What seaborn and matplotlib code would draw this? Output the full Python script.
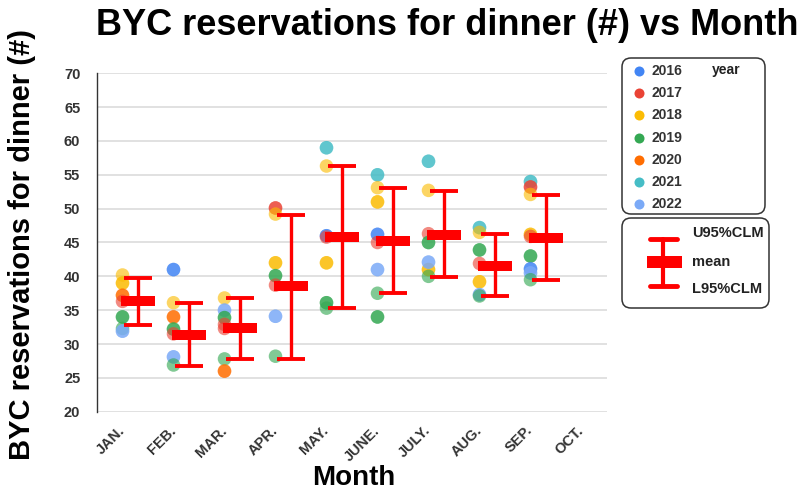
import numpy as np
import pandas as pd
import matplotlib
matplotlib.use("Agg")
import matplotlib.pyplot as plt
import seaborn as sns
from matplotlib.patches import FancyBboxPatch

# categories
months = ["JAN.", "FEB.", "MAR.", "APR.", "MAY.", "JUNE.", "JULY.", "AUG.", "SEP.", "OCT."]
years = [2016, 2017, 2018, 2019, 2020, 2021, 2022]
year_colors = ["#4285F4", "#EA4335", "#FBBC04", "#34A853", "#FF6D01", "#46BDC6", "#7BAAF7"]

pt_month = (["JAN."] * 7 + ["FEB."] * 7 + ["MAR."] * 7 + ["APR."] * 7 + ["MAY."] * 7
            + ["JUNE."] * 8 + ["JULY."] * 7 + ["AUG."] * 7 + ["SEP."] * 9)
pt_year = [2018, 2018, 2020, 2017, 2019, 2019, 2022,
           2016, 2018, 2020, 2019, 2017, 2022, 2019,
           2018, 2022, 2019, 2017, 2017, 2019, 2020,
           2017, 2018, 2018, 2019, 2017, 2022, 2019,
           2021, 2018, 2016, 2017, 2018, 2019, 2019,
           2021, 2018, 2018, 2016, 2017, 2022, 2019, 2019,
           2021, 2018, 2017, 2019, 2018, 2022, 2019,
           2021, 2018, 2019, 2017, 2018, 2022, 2019,
           2021, 2017, 2018, 2018, 2017, 2019, 2016, 2022, 2019]
pt_value = [40.2, 39.0, 37.2, 36.3, 34.0, 32.3, 31.9,
            41.0, 36.1, 34.0, 32.2, 31.5, 28.1, 26.9,
            36.8, 35.0, 33.9, 32.9, 32.3, 27.8, 26.0,
            50.1, 49.2, 42.0, 40.1, 38.7, 34.1, 28.2,
            59.0, 56.3, 46.0, 45.8, 42.0, 36.1, 35.3,
            55.0, 53.1, 51.0, 46.2, 45.0, 41.0, 37.5, 34.0,
            57.0, 52.7, 46.3, 45.0, 41.0, 42.1, 40.0,
            47.2, 46.5, 43.9, 41.9, 39.2, 37.3, 37.1,
            54.0, 53.2, 52.1, 46.2, 45.9, 43.0, 41.1, 40.5, 39.5]
pt_count = [1, 2, 2, 1, 2, 1, 2,
            2, 1, 2, 2, 1, 2, 1,
            1, 2, 2, 1, 1, 1, 2,
            2, 1, 2, 2, 1, 2, 1,
            2, 1, 2, 1, 2, 2, 1,
            2, 1, 2, 2, 1, 2, 1, 2,
            2, 1, 1, 2, 2, 2, 1,
            2, 1, 2, 1, 2, 2, 1,
            2, 2, 1, 2, 1, 2, 2, 2, 1]

# mean and 95% confidence limits per month (JAN..SEP)
mean_val = [36.4, 31.3, 32.3, 38.5, 45.8, 45.2, 46.1, 41.6, 45.7]
upper_95 = [39.8, 36.0, 36.85, 49.1, 56.3, 53.0, 52.6, 46.3, 52.0]
lower_95 = [32.8, 26.7, 27.75, 27.8, 35.3, 37.5, 39.9, 37.1, 39.5]

sns.set_style("whitegrid")
plt.rcParams["font.family"] = ["Liberation Sans", "DejaVu Sans"]
plt.rcParams["font.weight"] = "bold"

fig = plt.figure(figsize=(8.07, 4.91), dpi=100)
ax = fig.add_axes([97 / 807, 1 - 411.7 / 491, 510 / 807, 338.4 / 491])

df = pd.DataFrame({"month": pt_month, "year": pt_year, "value": pt_value, "count": pt_count})
df = df.loc[df.index.repeat(df["count"])].reset_index(drop=True)
df["x"] = df["month"].map(months.index)

sns.scatterplot(data=df, x="x", y="value", hue="year", palette=dict(zip(years, year_colors)),
                s=95, alpha=0.62, linewidth=0, legend=False, ax=ax, zorder=2)

mean_arr = np.array(mean_val)
xe = np.arange(len(mean_val)) + 0.3
ax.errorbar(xe, mean_arr, yerr=[mean_arr - np.array(lower_95), np.array(upper_95) - mean_arr],
            fmt="none", ecolor="#FF0000", elinewidth=2.4, capsize=10.4, capthick=2.8, zorder=3)
rect = [(-1, -0.33), (1, -0.33), (1, 0.33), (-1, 0.33), (-1, -0.33)]
ax.plot(xe, mean_arr, ls="none", marker=rect, ms=23.8, mew=0, color="#FF0000", zorder=4)

ax.set_xlim(-0.5, 9.5)
ax.set_ylim(20, 70)
ax.set_yticks(range(20, 71, 5))
ax.set_xticks(range(len(months)), months)
plt.setp(ax.get_xticklabels(), rotation=45, ha="right", va="center", rotation_mode="anchor")
ax.set_xlabel("")
ax.set_ylabel("")
ax.grid(axis="y", color="#d9d9d9", lw=1.1)
ax.grid(axis="x", visible=False)
for s in ["top", "right", "bottom"]:
    ax.spines[s].set_visible(False)
ax.spines["left"].set_color("#333333")
ax.spines["left"].set_linewidth(1)
ax.tick_params(axis="y", length=8, direction="inout", color="#333333", width=1, pad=8,
               labelsize=10.5, labelcolor="#333333")
ax.tick_params(axis="x", length=0, pad=12, labelsize=10.5, labelcolor="#333333")

# overlay in pixel coordinates for titles and legends
lax = fig.add_axes([0, 0, 1, 1])
lax.set_xlim(0, 807)
lax.set_ylim(491, 0)
lax.axis("off")

lax.text(447, 25, "BYC reservations for dinner (#) vs Month", ha="center", va="center",
         fontsize=26, fontweight="bold", color="black")
lax.text(22, 245, "BYC reservations for dinner (#)", ha="center", va="center", rotation=90,
         fontsize=21, fontweight="bold", color="black")
lax.text(354, 478, "Month", ha="center", va="center", fontsize=20, fontweight="bold", color="black")

# legend: years
lax.add_patch(FancyBboxPatch((622, 58), 143, 156, boxstyle="round,pad=0,rounding_size=9",
                             fc="white", ec="#333333", lw=1.1))
for i, (yr, c) in enumerate(zip(years, year_colors)):
    yy = 71 + 22.2 * i
    lax.scatter(639, yy, s=52, color=c, linewidth=0)
    lax.text(652, yy, str(yr), ha="left", va="center", fontsize=10, fontweight="bold", color="#333333")
lax.text(712, 70, "year", ha="left", va="center", fontsize=10, fontweight="bold", color="#222222")

# legend: mean and confidence limits
lax.add_patch(FancyBboxPatch((622, 218), 147, 90, boxstyle="round,pad=0,rounding_size=9",
                             fc="white", ec="#333333", lw=1.1))
lax.plot([663, 663], [239, 286], color="#FF0000", lw=3)
lax.plot([650, 677], [239, 239], color="#FF0000", lw=3.5)
lax.plot([650, 677], [286, 286], color="#FF0000", lw=3.5)
lax.add_patch(plt.Rectangle((647, 256), 35, 12, color="#FF0000", lw=0))
lax.text(692, 233, "U95%CLM", ha="left", va="center", fontsize=10.5, fontweight="bold", color="#222222")
lax.text(692, 262, "mean", ha="left", va="center", fontsize=10.5, fontweight="bold", color="#222222")
lax.text(692, 289, "L95%CLM", ha="left", va="center", fontsize=10.5, fontweight="bold", color="#222222")

fig.savefig("out.png", dpi=100)
